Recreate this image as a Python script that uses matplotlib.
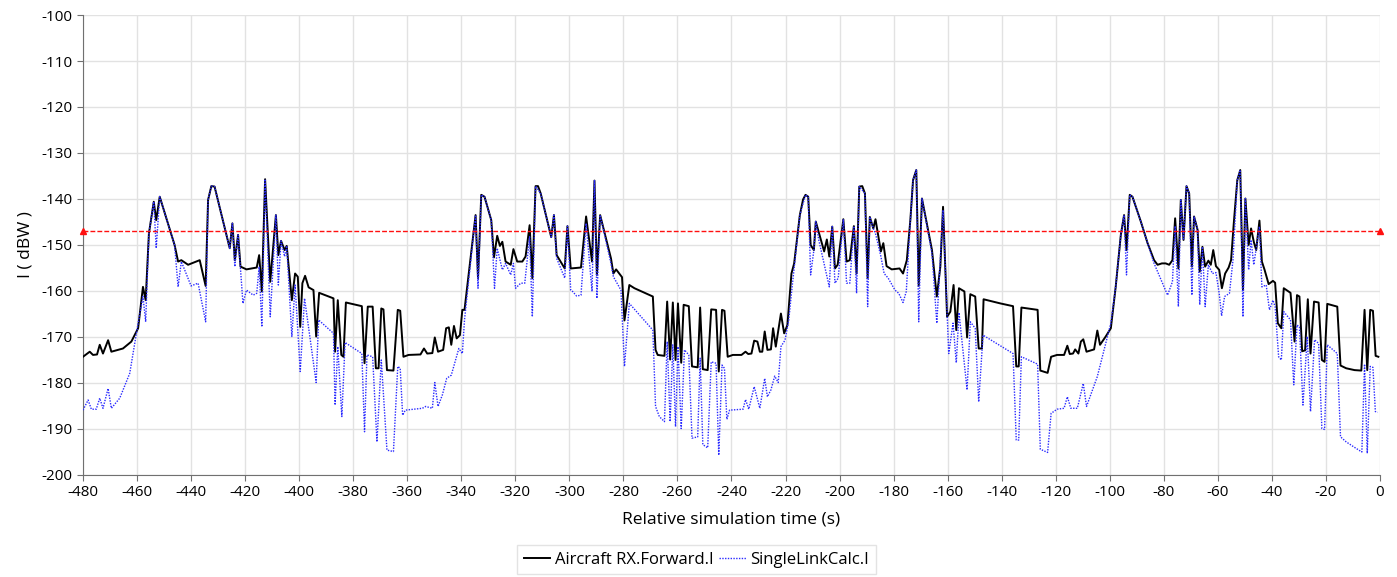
import matplotlib.pyplot as plt

plt.rcParams['font.family'] = ['Open Sans', 'DejaVu Sans']
plt.rcParams['axes.unicode_minus'] = False

# Aircraft RX.Forward.I (black solid)
t_rx = [-480, -477.5, -476.3, -474.8, -473.8, -472.6, -470.7, -469.5, -465.2, -462.1,
        -459.6, -457.8, -456.8, -455.6, -453.8, -452.9, -451.6, -446.1, -444.8, -443.6,
        -441.1, -436.8, -434.6, -433.7, -432.5, -431.3, -425.7, -424.7, -423.8, -422.6,
        -421.7, -419.5, -415.7, -414.8, -413.8, -412.6, -410.7, -408.6, -407.7, -406.7,
        -405.4, -404.6, -402.7, -401.5, -400.5, -399.6, -398.8, -397.8, -396.5, -394.7,
        -393.7, -392.6, -387.3, -386.7, -385.7, -384.4, -383.6, -382.7, -376.8, -375.8,
        -374.6, -372.8, -371.6, -370.6, -369.6, -368.8, -367.5, -365.1, -363.5, -362.6,
        -361.4, -359.5,
        -355.1, -353.8, -352.6, -350.7, -349.8, -348.6, -346.7, -345.6, -344.6, -343.7,
        -342.7, -341.7, -340.5, -339.6, -338.8, -334.7, -333.8, -332.6, -331.4, -328.9,
        -327.9, -326.7, -325.7, -324.8, -323.6, -321.7, -320.7, -319.3, -317.4, -316.2,
        -314.7, -313.7, -312.5, -311.6, -310.6, -306.7, -305.7, -304.7, -301.7, -300.7,
        -299.5, -295.7, -293.8, -291.6, -290.7, -289.8, -288.6, -284.6, -283.7, -282.7,
        -280.5, -279.6, -277.8, -275.9, -269.1, -268.1, -267.3, -264.8, -263.8, -262.7,
        -261.7, -260.7, -259.8, -258.6, -257.7, -255.8, -254.6, -252.5, -251.6, -250.6,
        -248.8, -247.5, -245.7, -244.7, -243.5, -242.6, -241.4, -239.5,
        -236.3, -234.8, -233.8, -232.6, -231.6, -230.4, -229.5, -228.6, -227.7, -226.7,
        -225.4, -224.6, -223.6, -221.7, -220.5, -219.3, -217.8, -216.8, -214.7, -213.5,
        -212.6, -211.6, -210.7, -209.5, -208.8, -206.9, -205.7, -204.7, -203.8, -202.7,
        -201.7, -200.7, -198.6, -197.4, -196.2, -194.7, -193.7, -192.7, -191.6, -190.6,
        -189.6, -188.8, -187.5, -186.7, -184.7, -183.8, -182.6, -180.7, -177.8, -176.5,
        -175.1, -173.8, -172.8, -171.6, -170.7, -169.5, -165.8, -164.0, -162.7, -161.7,
        -160.2, -159.0, -157.8, -156.8, -155.8, -153.8, -152.8, -151.6, -149.8, -148.5,
        -147.3, -146.7, -140.5, -135.8, -134.6, -133.7, -132.7, -126.7, -125.7, -123.0,
        -121.7, -119.5,
        -116.9, -115.7, -114.8, -113.6, -112.8, -111.6, -110.7, -109.8, -108.6, -105.8,
        -104.6, -103.6, -101.5, -99.6, -97.8, -95.9, -94.7, -93.8, -92.6, -91.6,
        -88.5, -86.0, -83.6, -82.3, -80.7, -79.3, -78.0, -76.8, -75.8, -74.6,
        -73.7, -72.7, -71.6, -70.6, -69.6, -68.8, -67.5, -66.7, -65.7, -64.7,
        -63.5, -62.6, -61.7, -60.7, -59.5, -58.5, -57.3, -56.0, -55.1, -54.1,
        -52.8, -51.7, -50.7, -49.8, -48.6, -47.7, -46.7, -45.8, -44.6, -43.7,
        -42.7, -41.2, -39.6, -38.8, -37.8, -36.5, -35.6, -33.1, -31.6, -30.7,
        -29.8, -28.8, -27.7, -26.7, -25.7, -24.4, -22.7, -21.5, -20.5, -19.5,
        -15.8, -14.6, -12.5, -9.4, -6.9, -5.7, -4.7, -3.6, -2.6, -1.6, -0.6]
i_rx = [-174.3, -173.2, -173.9, -173.8, -171.7, -173.6, -170.7, -173.2, -172.5, -171.0,
        -168.1, -159.1, -162.0, -147.5, -140.6, -144.6, -139.5, -150.0, -153.6, -153.3,
        -154.3, -153.3, -158.9, -140.2, -137.2, -137.3, -150.7, -145.3, -153.3, -147.8,
        -154.7, -155.3, -154.9, -152.2, -160.1, -135.7, -158.0, -143.5, -152.2, -149.1,
        -151.1, -150.2, -162.0, -156.2, -156.9, -167.8, -158.3, -156.7, -159.2, -159.8,
        -169.9, -160.4, -161.6, -173.2, -162.0, -173.9, -174.3, -162.5, -163.3, -175.7,
        -163.4, -163.4, -176.8, -176.8, -163.8, -164.0, -177.2, -177.3, -164.1, -164.3,
        -174.3, -173.9,
        -173.8, -172.5, -173.6, -173.5, -170.1, -173.2, -172.8, -168.1, -167.9, -171.7,
        -167.6, -170.3, -169.6, -164.1, -164.1, -143.5, -157.2, -139.1, -139.5, -144.6,
        -152.7, -148.0, -150.2, -149.3, -153.6, -154.3, -150.9, -153.6, -153.6, -152.5,
        -145.7, -157.2, -137.2, -137.2, -138.8, -148.3, -143.5, -152.2, -155.1, -145.9,
        -155.1, -154.9, -143.8, -153.6, -136.0, -156.5, -143.5, -152.9, -156.2, -155.3,
        -157.0, -166.4, -158.7, -159.4, -161.2, -172.8, -173.9, -174.1, -162.3, -174.9,
        -162.5, -175.0, -162.7, -175.6, -163.0, -163.3, -176.4, -176.6, -163.6, -177.0,
        -177.2, -164.0, -164.1, -177.5, -164.1, -164.3, -174.3, -173.9,
        -173.9, -173.2, -173.7, -173.6, -170.8, -171.0, -173.2, -173.2, -168.8, -172.8,
        -172.7, -168.1, -172.1, -164.9, -169.2, -167.4, -156.2, -154.0, -143.5, -140.1,
        -139.1, -139.5, -150.0, -151.1, -144.9, -148.9, -151.4, -148.8, -152.5, -146.0,
        -155.1, -154.3, -144.4, -153.6, -153.3, -145.9, -156.2, -137.3, -137.2, -138.8,
        -157.2, -143.9, -146.4, -144.4, -151.4, -149.6, -154.6, -155.3, -155.1, -156.2,
        -153.3, -144.6, -135.9, -133.7, -158.9, -139.9, -151.1, -161.2, -154.7, -141.7,
        -165.6, -164.5, -158.7, -168.5, -159.4, -160.1, -170.1, -160.7, -161.2, -172.5,
        -172.5, -161.8, -162.7, -163.3, -176.4, -176.4, -163.6, -164.1, -177.3, -177.8,
        -174.3, -173.9,
        -173.9, -171.9, -173.7, -173.6, -172.7, -173.6, -171.0, -170.5, -173.2, -172.7,
        -168.6, -171.7, -169.9, -168.1, -159.1, -147.8, -143.5, -151.1, -139.1, -139.5,
        -144.9, -149.6, -153.3, -154.3, -154.0, -154.0, -154.3, -153.3, -144.2, -155.1,
        -140.2, -148.9, -137.2, -138.8, -154.7, -143.8, -146.7, -155.8, -150.4, -154.7,
        -153.4, -154.3, -151.1, -154.6, -155.4, -159.4, -156.2, -154.9, -153.3, -145.3,
        -135.9, -133.7, -159.8, -139.9, -150.0, -146.4, -149.3, -151.1, -144.7, -153.6,
        -155.4, -158.5, -157.8, -158.2, -167.0, -168.1, -159.4, -160.4, -171.0, -160.9,
        -161.2, -173.1, -172.9, -161.8, -173.6, -162.3, -162.5, -175.0, -175.4, -162.8,
        -163.4, -176.2, -176.8, -177.2, -177.3, -164.1, -177.2, -164.1, -164.3, -174.1, -174.3]

# SingleLinkCalc.I (blue dotted)
t_sl = [-480, -478.1, -476.9, -475.1, -473.8, -472.6, -470.7, -469.5, -466.4, -462.7,
        -459.6, -457.8, -456.8, -455.6, -453.8, -452.9, -451.6, -446.1, -444.8, -443.6,
        -440.0, -437.4, -434.6, -433.7, -432.5, -431.3, -425.7, -424.7, -423.8, -422.6,
        -420.8, -419.5, -417.0, -415.7, -414.8, -413.8, -412.6, -410.7, -408.6, -407.7,
        -406.7, -405.4, -404.6, -402.7, -401.5, -399.6, -398.0, -393.7, -392.8, -387.3,
        -386.7, -385.7, -384.2, -383.0, -376.8, -375.8, -374.9, -372.8, -371.2, -369.6,
        -367.5, -365.1, -363.5, -362.6, -361.7, -360.7,
        -354.4, -353.2, -350.7, -349.8, -348.6, -347.0, -345.4, -343.7, -340.9, -339.6,
        -338.8, -334.7, -333.8, -332.6, -331.4, -328.9, -327.7, -326.7, -324.8, -323.6,
        -321.7, -320.7, -319.9, -318.0, -316.5, -314.7, -313.7, -312.5, -310.6, -306.7,
        -305.7, -304.7, -301.7, -300.7, -299.5, -298.8, -297.3, -295.7, -293.8, -291.6,
        -290.7, -289.8, -288.6, -284.6, -283.7, -280.9, -279.6, -277.8, -269.1, -268.1,
        -266.7, -264.8, -263.8, -262.7, -261.7, -260.7, -259.8, -258.6, -257.4, -255.8,
        -254.6, -252.5, -251.6, -250.6, -248.8, -247.5, -245.7, -244.7, -243.5, -242.6,
        -241.7, -240.7,
        -235.7, -234.8, -233.6, -231.6, -229.5, -227.7, -226.7, -225.4, -224.0, -222.7,
        -221.7, -220.2, -218.8, -217.8, -214.7, -212.6, -211.6, -210.7, -209.5, -208.8,
        -207.7, -206.0, -203.8, -202.7, -201.7, -200.5, -198.6, -197.4, -196.2, -194.7,
        -193.7, -192.7, -190.6, -189.6, -188.8, -187.5, -186.7, -184.7, -183.5, -182.0,
        -179.5, -178.1, -176.5, -175.3, -173.8, -172.8, -171.6, -170.7, -169.5, -165.8,
        -164.0, -161.7, -159.6, -158.0, -156.8, -155.8, -152.8, -151.6, -149.8, -148.5,
        -146.9, -143.0, -135.8, -134.6, -133.7, -132.7, -126.7, -125.7, -123.0, -121.7,
        -119.5,
        -116.9, -115.7, -114.4, -112.0, -109.8, -108.6, -104.6, -99.6, -97.8, -95.9,
        -94.7, -93.8, -92.6, -91.6, -88.5, -86.0, -83.6, -78.6, -76.8, -75.8,
        -74.6, -73.7, -72.7, -71.6, -70.6, -69.6, -68.8, -67.5, -66.7, -65.7,
        -64.7, -63.5, -62.0, -60.7, -59.5, -58.6, -57.5, -55.7, -54.4, -52.8,
        -51.7, -50.7, -49.8, -48.6, -47.7, -46.7, -44.6, -43.7, -42.1, -40.9,
        -39.6, -38.8, -37.5, -36.5, -35.6, -33.1, -31.9, -30.7, -29.8, -28.5,
        -26.9, -25.7, -24.2, -22.7, -21.5, -20.5, -19.5, -15.8, -14.6, -12.5,
        -9.4, -6.7, -5.7, -4.7, -3.6, -2.6, -1.7, -0.9]
i_sl = [-185.9, -183.7, -185.7, -185.7, -183.3, -185.5, -181.2, -185.5, -183.3, -177.9,
        -167.0, -161.2, -166.7, -147.5, -140.6, -150.7, -139.5, -150.0, -159.1, -153.6,
        -158.9, -158.3, -166.7, -140.2, -137.2, -137.3, -150.7, -145.3, -154.7, -147.8,
        -162.7, -159.8, -160.9, -160.5, -154.7, -167.8, -135.7, -165.6, -143.5, -158.7,
        -149.1, -152.5, -150.2, -169.9, -158.7, -177.5, -161.6, -179.9, -166.3, -169.2,
        -184.8, -172.1, -187.3, -171.2, -173.6, -190.6, -173.9, -174.3, -192.8, -175.0,
        -194.6, -194.9, -176.4, -176.8, -187.0, -185.9,
        -185.5, -185.1, -185.5, -179.9, -185.1, -182.6, -179.0, -178.3, -172.5, -173.6,
        -166.3, -143.5, -159.4, -139.1, -139.5, -144.6, -159.4, -150.7, -155.4, -154.0,
        -156.5, -154.0, -159.4, -158.3, -158.3, -148.2, -165.6, -137.2, -138.8, -148.3,
        -143.5, -152.9, -157.2, -145.9, -159.8, -160.1, -161.1, -160.9, -145.3, -160.1,
        -136.0, -161.6, -143.5, -154.0, -156.9, -159.8, -176.4, -162.7, -168.5, -185.1,
        -187.3, -188.4, -171.0, -188.4, -171.7, -189.5, -172.1, -189.9, -172.8, -173.9,
        -192.0, -191.7, -174.6, -193.4, -194.1, -175.4, -175.7, -195.7, -176.1, -176.8,
        -187.9, -185.9,
        -185.7, -183.6, -185.7, -180.8, -185.5, -179.0, -183.0, -181.5, -178.5, -179.9,
        -172.1, -170.7, -166.3, -160.5, -143.5, -139.1, -139.5, -156.5, -151.1, -144.9,
        -148.9, -153.3, -159.1, -146.0, -158.3, -157.2, -144.4, -158.3, -158.3, -145.9,
        -160.5, -137.3, -138.8, -163.4, -143.9, -146.4, -147.5, -152.5, -156.2, -157.2,
        -159.8, -160.5, -162.5, -160.1, -144.6, -135.9, -133.7, -166.7, -139.9, -151.8,
        -167.0, -142.4, -173.6, -167.0, -175.6, -164.7, -181.5, -166.7, -168.1, -184.1,
        -169.6, -171.0, -173.6, -192.4, -192.4, -174.3, -175.9, -194.4, -195.1, -186.6,
        -185.7,
        -185.5, -183.0, -185.5, -185.5, -180.1, -185.1, -178.6, -167.0, -159.1, -147.8,
        -143.5, -156.5, -139.1, -139.5, -144.9, -149.6, -154.0, -160.9, -158.0, -145.9,
        -163.4, -140.2, -148.9, -137.2, -138.8, -160.9, -143.8, -146.7, -163.0, -150.4,
        -163.4, -154.3, -156.2, -156.0, -160.5, -165.4, -161.2, -160.5, -153.3, -135.9,
        -133.7, -165.6, -139.9, -155.4, -148.9, -154.3, -146.0, -159.1, -158.7, -164.1,
        -162.0, -163.4, -174.3, -175.0, -164.5, -166.3, -180.4, -167.4, -167.8, -184.8,
        -169.9, -186.2, -170.6, -171.4, -189.9, -190.1, -171.7, -173.6, -191.7, -192.8,
        -194.0, -195.0, -175.9, -195.3, -176.4, -176.6, -186.2, -186.4]

threshold = -147.0
xticks = list(range(-480, 1, 20))
yticks = list(range(-200, -99, 10))

fig = plt.figure(figsize=(13.97, 5.77), dpi=100)
ax = fig.add_axes([0.0594, 0.1768, 0.9284, 0.7972])

ax.plot(t_rx, i_rx, color='black', lw=1.4, label='Aircraft RX.Forward.I', zorder=3)
ax.plot(t_sl, i_sl, color='#2a2aff', lw=1.0, ls=(0, (1, 1)), label='SingleLinkCalc.I', zorder=4)
ax.plot([-480, 0], [threshold, threshold], color='#ff1010', lw=1.0, ls=(0, (3.5, 1.5)),
        marker='^', markersize=4.5, zorder=5, clip_on=False)

ax.set_xlim(-480, 0)
ax.set_ylim(-200, -100)
ax.set_xticks(xticks)
ax.set_yticks(yticks)
ax.grid(True, color='#e2e2e2', lw=1.0)
ax.set_axisbelow(True)
for s in ['top', 'right']:
    ax.spines[s].set_visible(False)
for s in ['left', 'bottom']:
    ax.spines[s].set_color('#707070')
ax.tick_params(colors='#707070', labelcolor='black', labelsize=11, length=4)
ax.set_xlabel('Relative simulation time (s)', fontsize=12.5, labelpad=8)
ax.set_ylabel('I ( dBW )', fontsize=12.5, labelpad=6)

fig.legend(loc='lower center', bbox_to_anchor=(0.4985, -0.01), ncol=2, fontsize=12,
           frameon=True, fancybox=False, edgecolor='#dddddd', handlelength=1.6,
           handletextpad=0.3, columnspacing=0.3, borderpad=0.4)

fig.savefig('out.png', dpi=100)
